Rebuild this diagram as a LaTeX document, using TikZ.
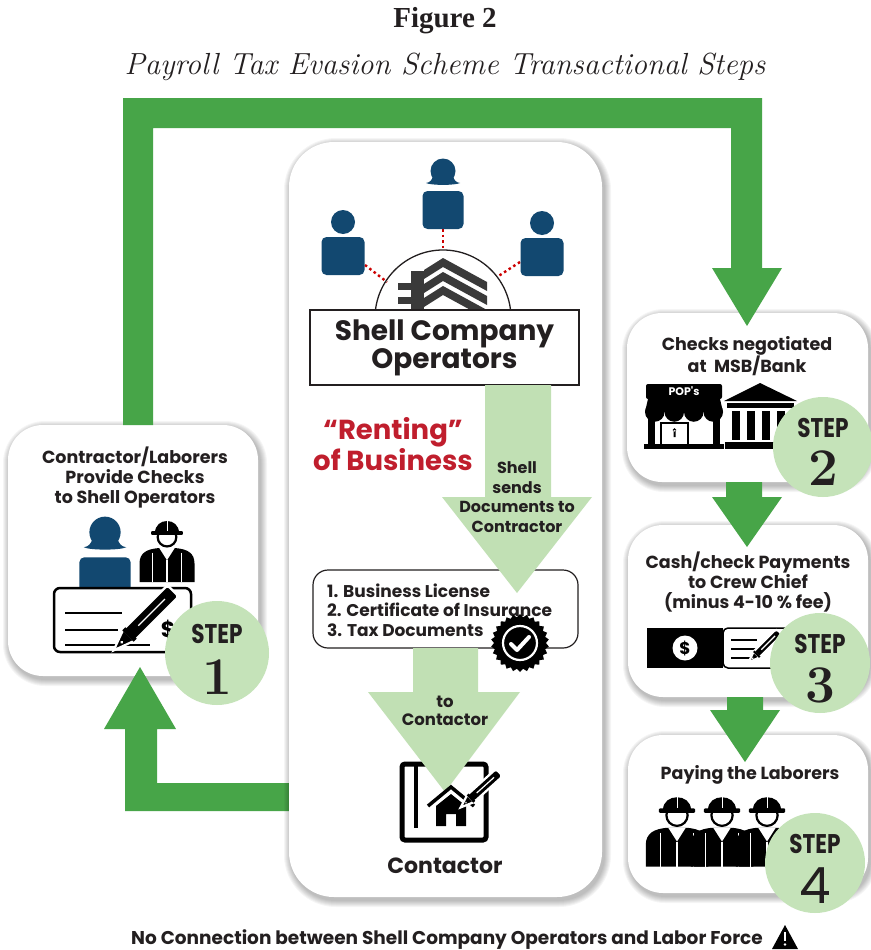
\documentclass[tikz,border=0pt]{standalone}
\usepackage{fontspec}
\newfontfamily\gothic{Poppins}
\newfontfamily\stepfont{Poppins}[FakeStretch=0.8]
\newfontfamily\titlefont{Liberation Serif}
\usetikzlibrary{shapes.geometric,calc}
\definecolor{dgreen}{RGB}{71,165,72}
\definecolor{lgreen}{RGB}{193,224,180}
\definecolor{cgreen}{RGB}{197,227,185}
\definecolor{pblue}{RGB}{18,72,112}
\definecolor{rred}{RGB}{192,30,45}
\definecolor{ink}{RGB}{35,31,32}
\definecolor{bgray}{RGB}{58,58,58}
\newcommand\shadowbox[5]{\foreach \k in {1,...,7}{\fill[black,opacity=0.04,rounded corners={(#5+\k)*1pt}] ({#1-\k+2},{#2-\k+3}) rectangle ({#3+\k+2},{#4+\k+3});}}
\tikzset{
  panel/.style={rectangle, fill=white, rounded corners=#1, inner sep=0, outer sep=0},
  stepc/.style={circle, fill=cgreen, minimum size=#1, inner sep=0},
  stepw/.style={font=\stepfont\bfseries\fontsize{27}{27}\selectfont, text=ink, inner sep=0},
  stepn/.style={font=\bfseries\fontsize{53}{53}\selectfont, text=ink, inner sep=0},
  lbl/.style={font=\gothic\bfseries\fontsize{17.5}{20}\selectfont, text=ink, align=center, inner sep=0},
  person/.pic={
    \fill[pblue] (0,0) circle (12);
    \fill[pblue, rounded corners=5] (-21.5,15) rectangle (21.5,53);
  },
  woman/.pic={
    \fill[pblue] (0,-3) circle (12.5);
    \fill[pblue] (-17,9) .. controls (-13,8.5) and (-11,6) .. (-10,2) -- (10,2) .. controls (11,6) and (13,8.5) .. (17,9) .. controls (12,11.5) and (-12,11.5) .. (-17,9) -- cycle;
    \fill[pblue, rounded corners=5] (-20.5,17) rectangle (20.5,55);
  },
  worker/.pic={
    \fill[black] (-25,42) -- (-25,25) .. controls (-25,15) and (-18,12) .. (-8,11) -- (8,11) .. controls (18,12) and (25,15) .. (25,25) -- (25,42) -- cycle;
    \fill[white] (-7,11) -- (0,22) -- (7,11) -- cycle;
    \draw[white, line width=1.4] (0,22) -- (0,42) (-13,15) -- (-13,42) (13,15) -- (13,42);
    \draw[black, line width=2.2, fill=white] (0,1) circle (8.5);
    \fill[black] (-11,-3) .. controls (-11,-17) and (11,-17) .. (11,-3) -- cycle;
    \fill[black, rounded corners=1] (-14.5,-4.5) rectangle (14.5,-1);
    \draw[white, line width=1] (0,-15) -- (0,-5);
  },
  pen/.pic={
    \draw[white, line width=2.2, fill=black, rounded corners=3] (0,-5.5) rectangle (44,5.5);
    \draw[white, line width=2.2, fill=black] (1,-5.5) -- (-14,0) -- (1,5.5) -- cycle;
    \fill[black] (0,-5.5) rectangle (3,5.5);
    \draw[white, line width=1.2] (10,0) -- (36,0);
    \fill[white] (-6,0) circle (1.1);
  }
}
\begin{document}
\begin{tikzpicture}[x=1pt,y=-1pt]
\useasboundingbox (0,0) rectangle (870,950);
\fill[white] (0,0) rectangle (870,950);

% titles
\node[font=\titlefont\bfseries\fontsize{29}{32}\selectfont, text=ink] (title) at (445,21) {Figure 2};
\node[font=\itshape\fontsize{30.5}{34}\selectfont, text=ink] (subtitle) at (445,67) {Payroll Tax Evasion Scheme Transactional Steps};

% step panels
\shadowbox{8}{425}{258}{676}{35}
\shadowbox{627}{313}{868}{482}{35}
\shadowbox{628}{525}{868}{697}{35}
\shadowbox{628}{735}{868}{893}{35}
\node[panel=35, minimum width=250, minimum height=251] (s1) at (133,550.5) {};
\node[panel=35, minimum width=241, minimum height=169] (s2) at (747.5,397.5) {};
\node[panel=35, minimum width=240, minimum height=172] (s3) at (748,611) {};
\node[panel=35, minimum width=240, minimum height=158] (s4) at (748,814) {};

% dark green connectors
\fill[dgreen] (123,425) -- (123,98) -- (762,98) -- (762,268) -- (782,268) -- (747,326) -- (712,268) -- (731,268) -- (731,128) -- (153,128) -- (153,425) -- cycle;
\fill[dgreen] (726,482) -- (726,497) -- (712,497) -- (747,547) -- (782,497) -- (762,497) -- (762,482) -- cycle;
\fill[dgreen] (727,697) -- (727,710) -- (710,710) -- (745,762) -- (780,710) -- (763,710) -- (763,697) -- cycle;
\fill[dgreen] (292,783) -- (157,783) -- (157,729) -- (176,729) -- (140,667) -- (104,729) -- (125,729) -- (125,811) -- (292,811) -- cycle;

% center panel
\shadowbox{289}{142}{602}{897}{45}
\node[panel=45, minimum width=313, minimum height=755] (cbox) at (445.5,519.5) {};

% operators
\draw[red!80!black, line width=2.4, dash pattern=on 2.5pt off 3pt] (365,265) -- (387,282);
\draw[red!80!black, line width=2.4, dash pattern=on 2.5pt off 3pt] (443,229) -- (443,250);
\draw[red!80!black, line width=2.4, dash pattern=on 2.5pt off 3pt] (520,262) -- (497,277);
\pic at (343,222) {person};
\pic at (443,174) {woman};
\pic at (542,223) {person};
\begin{scope}
\clip (360,240) rectangle (530,310);
\draw[ink, line width=1.3] (443,318) circle (68);
\foreach \d in {0,14,28}{
  \fill[bgray] (424,{270+\d}) -- (443,{258+\d}) -- (487,{282+\d}) -- (487,{291+\d}) -- (443,{267+\d}) -- (424,{279+\d}) -- cycle;
}
\fill[bgray] (411,271) rectangle (424,310);
\fill[bgray] (398,283) rectangle (424,290);
\fill[bgray] (398,297) rectangle (424,304);
\end{scope}
\node[draw=ink, line width=1.8, fill=white, minimum width=269, minimum height=75, inner sep=0] (ops) at (444.5,347.5) {};
\node[font=\gothic\bfseries\fontsize{28}{28}\selectfont, text=ink, align=center] (opstext) at (ops) {Shell Company\\Operators};

% renting
\node[font=\gothic\bfseries\fontsize{27.5}{31}\selectfont, text=rred, align=center] (rent) at (393,444) {“Renting”\\of Business};

% documents box and first light arrow
\node[draw=ink, line width=1.2, fill=white, rounded corners=15, minimum width=265, minimum height=78, inner sep=0] (docs) at (445.5,609) {};
\fill[lgreen] (485,385) -- (485,497) -- (442,497) -- (517,593) -- (592,497) -- (551,497) -- (551,385) -- cycle;
\node[lbl, font=\gothic\bfseries\fontsize{16}{19.5}\selectfont] (sends) at (517,497) {Shell\\sends\\Documents to\\Contractor};
\node[lbl, align=left, font=\gothic\bfseries\fontsize{17}{19.5}\selectfont, anchor=west] (doclist) at (327,610) {1. Business License\\2. Certificate of Insurance\\3. Tax Documents};

% second light arrow and contractor icon
\draw[black, line width=5, rounded corners=3] (402,764) rectangle (486,840);
\draw[black, line width=4] (416,764) -- (416,828);
\fill[lgreen] (413,648) -- (413,692) -- (368,692) -- (445,792) -- (520,692) -- (478,692) -- (478,648) -- cycle;
\node[lbl, font=\gothic\bfseries\fontsize{16.5}{18.5}\selectfont] (tocont) at (445,711) {to\\Contactor};
\draw[black, line width=3.5] (428,806) -- (451,787) -- (474,806);
\fill[black] (436,806) -- (451,794) -- (466,806) -- (466,826) -- (456,826) -- (456,814) -- (446,814) -- (446,826) -- (436,826) -- cycle;
\pic[rotate=42, scale=0.9] at (470,799) {pen};
\node[font=\gothic\bfseries\fontsize{22}{24}\selectfont, text=ink] (contlbl) at (445,866) {Contactor};

% badge
\node[star, star points=26, star point ratio=1.12, fill=black, minimum size=58, inner sep=0] (badge) at (520,643) {};
\draw[white, line width=2.2] (badge.center) circle (17);
\draw[white, line width=4, line cap=round, line join=round] (511,644) -- (517,650) -- (529,637);

% step 1 content
\node[lbl] (t1) at (135,478) {Contractor/Laborers\\Provide Checks\\to Shell Operators};
\pic[scale=1.25] at (105,536) {woman};
\pic[scale=1.1] at (167,536) {worker};
\draw[black, line width=2.5, fill=white, rounded corners=6] (54,588) rectangle (191,652);
\draw[black, line width=2] (65,613) -- (122,613) (65,630) -- (118,630) (65,645) -- (150,645);
\node[font=\gothic\bfseries\fontsize{22}{22}\selectfont] (dollar1) at (168,630) {\$};
\pic[rotate=45, scale=1.45] at (128,636) {pen};

% step 2 content
\node[lbl] (t2) at (747,356) {Checks negotiated\\at \ MSB/Bank};
% store
\fill[black, rounded corners=2] (646,384) rectangle (722,399);
\node[font=\gothic\bfseries\fontsize{11}{11}\selectfont, text=white, inner sep=0] (pops) at (684,391.5) {POP's};
\fill[black] (648,399) -- (720,399) -- (723,412) -- (645,412) -- cycle;
\foreach \i in {0,1,2,3}{\fill[black] ({654.75+\i*19.5},412) circle (9.75);}
\fill[black] (648,412) rectangle (655,448);
\fill[black] (713,412) rectangle (720,448);
\draw[black, line width=2] (661,423) rectangle (688,446);
\fill[black] (674.5,430) circle (1.8) (673.5,430) rectangle (675.5,437);
\fill[black] (644,444) rectangle (724,449);
% bank
\fill[black] (724,401) -- (760,383) -- (797,401) -- cycle;
\fill[black] (727,403) rectangle (794,408);
\foreach \x in {732,747,762,777}{\fill[black] (\x,411) rectangle ({\x+8},440);}
\fill[black] (725,442) rectangle (797,449);

% step 3 content
\node[lbl] (t3) at (748,582) {Cash/check Payments\\to Crew Chief\\(minus 4-10 \% fee)};
\fill[black] (647,628) rectangle (723,668);
\fill[white] (685,648) circle (12.5);
\node[font=\gothic\bfseries\fontsize{17}{17}\selectfont, text=black] (dollar3) at (685,648) {\$};
\draw[black, line width=1.5, fill=white, rounded corners=5] (723,628) rectangle (796,668);
\draw[black, line width=1.5] (731,640) -- (757,640) (731,649) -- (762,649) (731,658) -- (757,658);
\pic[rotate=45, scale=0.75] at (756,655) {pen};

% step 4 content
\node[lbl] (t4) at (750,775) {Paying the Laborers};
\pic[scale=1.25] at (677,814) {worker};
\pic[scale=1.25] at (722,814) {worker};
\pic[scale=1.25] at (767,814) {worker};

% step circles
\node[stepc=104] (c1) at (217,653) {};
\node[stepw] at (217,634) {STEP};
\node[stepn] at (217,677) {1};
\node[stepc=100] (c2) at (823,447) {};
\node[stepw] at (823,428) {STEP};
\node[stepn] at (823,468) {2};
\node[stepc=100] (c3) at (820,663) {};
\node[stepw] at (820,644) {STEP};
\node[stepn] at (820,685) {3};
\node[stepc=100] (c4) at (815,863) {};
\node[stepw] at (815,844) {STEP};
\node[font=\gothic\fontsize{50}{50}\selectfont, text=ink, inner sep=0] at (815,886) {4};

% bottom note
\node[font=\gothic\bfseries\fontsize{18.5}{20}\selectfont, text=ink] (note) at (447,940) {No Connection between Shell Company Operators and Labor Force};
\fill[black] (772,949) -- (785,925) -- (798,949) -- cycle;
\fill[white] (784,932) rectangle (786,941);
\fill[white] (785,944.5) circle (1.3);
\end{tikzpicture}
\end{document}
